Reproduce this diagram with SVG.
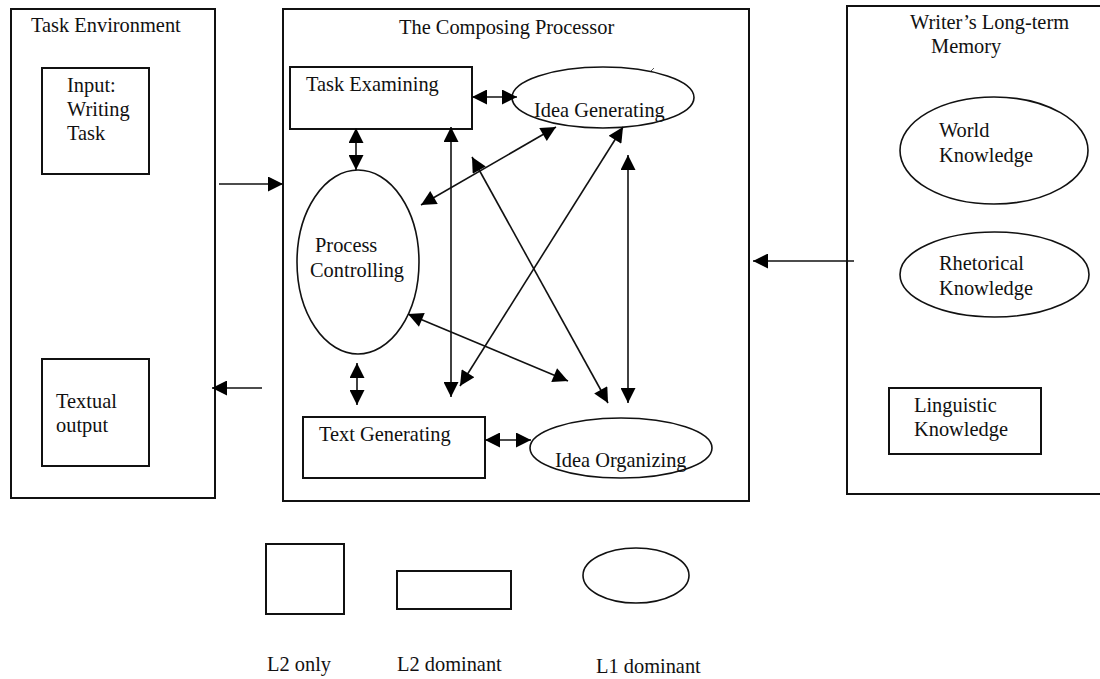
<svg xmlns="http://www.w3.org/2000/svg" width="1100" height="679" viewBox="0 0 1100 679">
<defs>
<style>
text{font-family:"Liberation Serif","Times New Roman",serif;font-size:20.4px;fill:#111}
.box{fill:none;stroke:#111;stroke-width:2}
.ell{fill:none;stroke:#111;stroke-width:1.6}
.con{fill:none;stroke:#111;stroke-width:1.6;marker-end:url(#ah)}
.dbl{marker-start:url(#ah)}
</style>
<marker id="ah" viewBox="0 0 10 10" refX="10" refY="5" markerWidth="16" markerHeight="15" markerUnits="userSpaceOnUse" orient="auto-start-reverse">
<path d="M0,0 L10,5 L0,10 z" fill="#000"/>
</marker>
</defs>
<rect width="1100" height="679" fill="#fff"/>

<g id="task-environment">
<rect class="box" x="11" y="9" width="204" height="489"/>
<text x="31" y="32">Task Environment</text>
</g>
<g id="input-writing-task">
<rect class="box" x="42" y="68" width="107" height="106"/>
<text x="67" y="92">Input:</text>
<text x="67" y="116">Writing</text>
<text x="67" y="140">Task</text>
</g>
<g id="textual-output">
<rect class="box" x="42" y="359" width="107" height="107"/>
<text x="56" y="408">Textual</text>
<text x="56" y="432">output</text>
</g>

<g id="composing-processor">
<rect class="box" x="283" y="9" width="466" height="492"/>
<text x="399" y="34">The Composing Processor</text>
</g>
<g id="task-examining">
<rect class="box" x="290" y="67" width="182" height="62"/>
<text x="306" y="91">Task Examining</text>
</g>
<g id="idea-generating">
<ellipse class="ell" cx="603" cy="97.5" rx="91" ry="30.5"/>
<path d="M651,71 L654,68" stroke="#555" stroke-width="1"/>
<text x="534" y="117">Idea Generating</text>
</g>
<g id="process-controlling">
<ellipse class="ell" cx="358" cy="262" rx="61" ry="92"/>
<text x="315" y="252">Process</text>
<text x="310" y="277">Controlling</text>
</g>
<g id="text-generating">
<rect class="box" x="303" y="417" width="182" height="61"/>
<text x="319" y="441">Text Generating</text>
</g>
<g id="idea-organizing">
<ellipse class="ell" cx="621" cy="448" rx="91" ry="30"/>
<text x="555" y="467">Idea Organizing</text>
</g>

<g id="long-term-memory">
<rect class="box" x="847" y="6" width="270" height="488"/>
<text x="910" y="29">Writer’s Long-term</text>
<text x="931" y="53">Memory</text>
</g>
<g id="world-knowledge">
<ellipse class="ell" cx="994" cy="150.5" rx="94" ry="53.5"/>
<text x="939" y="137">World</text>
<text x="939" y="162">Knowledge</text>
</g>
<g id="rhetorical-knowledge">
<ellipse class="ell" cx="994.5" cy="274.5" rx="94.5" ry="42.5" stroke-width="2.2"/>
<text x="939" y="270">Rhetorical</text>
<text x="939" y="295">Knowledge</text>
</g>
<g id="linguistic-knowledge">
<rect class="box" x="889" y="388" width="152" height="66"/>
<text x="914" y="412">Linguistic</text>
<text x="914" y="436">Knowledge</text>
</g>

<g id="legend-l2-only">
<rect class="box" x="266" y="544" width="78" height="70" stroke-width="1.6"/>
<text x="267" y="671">L2 only</text>
</g>
<g id="legend-l2-dominant">
<rect class="box" x="397" y="571" width="114" height="38" stroke-width="1.6"/>
<text x="397" y="671">L2 dominant</text>
</g>
<g id="legend-l1-dominant">
<ellipse class="ell" cx="636" cy="575.5" rx="53" ry="27.5"/>
<text x="596" y="673">L1 dominant</text>
</g>

<g id="connectors">
<line class="con" x1="219" y1="184" x2="283" y2="184"/>
<line class="con" x1="262" y1="388" x2="212" y2="388"/>
<line class="con" x1="854" y1="261" x2="753" y2="261"/>
<line class="con dbl" x1="472" y1="97" x2="517" y2="97"/>
<line class="con dbl" x1="356" y1="128" x2="356" y2="170"/>
<line class="con dbl" x1="451" y1="127" x2="451" y2="397"/>
<line class="con dbl" x1="421" y1="205" x2="556" y2="127"/>
<line class="con dbl" x1="472" y1="157" x2="608" y2="403"/>
<line class="con dbl" x1="623" y1="127" x2="460" y2="386"/>
<line class="con dbl" x1="628" y1="155" x2="628" y2="403"/>
<line class="con dbl" x1="408" y1="314" x2="568" y2="381"/>
<line class="con dbl" x1="357" y1="363" x2="357" y2="405"/>
<line class="con dbl" x1="485" y1="440" x2="531" y2="440" stroke="#888" stroke-width="1"/>
</g>
</svg>
